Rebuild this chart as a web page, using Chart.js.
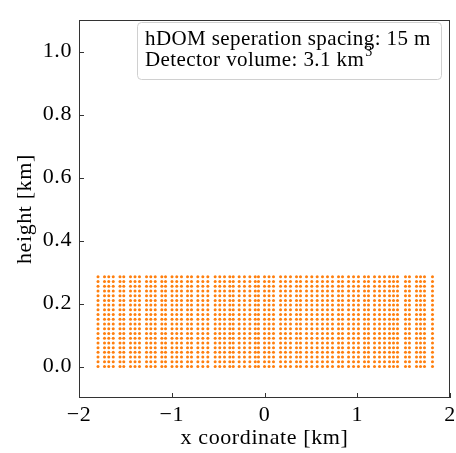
<!DOCTYPE html>
<html>
<head>
<meta charset="utf-8">
<script src="https://cdn.jsdelivr.net/npm/chart.js@4.4.0/dist/chart.umd.min.js"></script>
<style>
  html, body { margin: 0; padding: 0; background: #fff; }
  #wrap { width: 456px; height: 453px; }
</style>
</head>
<body>
<div id="wrap"><canvas id="grid" width="456" height="453"></canvas></div>
<script>
// ── Data ─────────────────────────────────────────────────────────────
// x positions of the string columns (km)
const xColumns = [
  -1.795, -1.725, -1.679, -1.631, -1.558, -1.517, -1.445, -1.396, -1.348,
  -1.272, -1.226, -1.178, -1.107, -1.067, -0.997, -0.946, -0.895, -0.830,
  -0.787, -0.719, -0.665, -0.611, -0.532, -0.482, -0.431, -0.374, -0.337,
  -0.273, -0.216, -0.158, -0.100, -0.065, 0.000, 0.049, 0.097, 0.173,
  0.226, 0.280, 0.345, 0.388, 0.453, 0.510, 0.568, 0.625, 0.679, 0.733,
  0.798, 0.841, 0.906, 0.960, 1.013, 1.078, 1.121, 1.186, 1.240, 1.294,
  1.348, 1.391, 1.434, 1.520, 1.563, 1.639, 1.682, 1.725, 1.811
];
// hDOM heights along each string (km), 15 m apart
const heightRows = [
  0.000, 0.015, 0.030, 0.045, 0.060, 0.075, 0.090, 0.105, 0.120, 0.135,
  0.150, 0.165, 0.180, 0.195, 0.210, 0.225, 0.240, 0.255, 0.270, 0.285
];
const xTicks = [-2, -1, 0, 1, 2];
const yTicks = [0.0, 0.2, 0.4, 0.6, 0.8, 1.0];
const infoLines = ['hDOM seperation spacing: 15 m', 'Detector volume: 3.1 km'];

const FONT = "'Liberation Serif', 'Times New Roman', serif";

const points = [];
xColumns.forEach(x => heightRows.forEach(y => points.push({ x, y })));

// slightly wider lettering, closer to the LaTeX look
const spacingPlugin = {
  id: 'spacing',
  beforeDraw(chart) { chart.ctx.letterSpacing = '0.6px'; }
};

// frame + inward ticks, matplotlib style
const framePlugin = {
  id: 'frame',
  afterDraw(chart) {
    const { ctx, chartArea: a, scales } = chart;
    ctx.save();
    ctx.strokeStyle = '#333';
    ctx.lineWidth = 1;
    ctx.strokeRect(Math.round(a.left) + 0.5, Math.round(a.top) + 0.5,
      Math.round(a.right - a.left) - 1, Math.round(a.bottom - a.top) - 1);
    ctx.beginPath();
    xTicks.forEach(v => {
      const px = Math.round(scales.x.getPixelForValue(v)) + 0.5;
      ctx.moveTo(px, a.bottom);
      ctx.lineTo(px, a.bottom - 5);
    });
    yTicks.forEach(v => {
      const py = Math.round(scales.y.getPixelForValue(v)) + 0.5;
      ctx.moveTo(a.left, py);
      ctx.lineTo(a.left + 5, py);
    });
    ctx.stroke();
    ctx.restore();
  }
};

// text box in the upper right
const infoPlugin = {
  id: 'info',
  afterDraw(chart) {
    const { ctx, chartArea: a } = chart;
    const bx = 137, by = 22, bw = a.right - 9 - bx, bh = 57;
    ctx.save();
    ctx.fillStyle = 'rgba(255,255,255,0.85)';
    ctx.strokeStyle = '#d0d0d0';
    ctx.lineWidth = 1;
    ctx.beginPath();
    ctx.roundRect(bx + 0.5, by + 0.5, bw, bh, 4);
    ctx.fill();
    ctx.stroke();
    ctx.fillStyle = '#000';
    ctx.letterSpacing = '0.4px';
    ctx.font = '21px ' + FONT;
    ctx.textBaseline = 'alphabetic';
    ctx.fillText(infoLines[0], 145, 45);
    ctx.fillText(infoLines[1], 145, 66);
    const w = ctx.measureText(infoLines[1]).width;
    ctx.font = '14px ' + FONT;
    ctx.fillText('3', 146 + w, 56);
    ctx.restore();
  }
};

new Chart(document.getElementById('grid'), {
  type: 'scatter',
  data: {
    datasets: [{
      data: points,
      backgroundColor: '#ff7f0e',
      borderWidth: 0,
      pointRadius: 1.5,
      pointHoverRadius: 1.5,
    }]
  },
  options: {
    responsive: false,
    animation: false,
    events: [],
    layout: { padding: { left: 0, right: 0, top: 9, bottom: 0 } },
    plugins: { legend: { display: false }, tooltip: { enabled: false } },
    scales: {
      x: {
        type: 'linear',
        min: -2, max: 2,
        grid: { display: false, drawTicks: false, tickLength: 0 },
        border: { display: false },
        afterBuildTicks: s => { s.ticks = xTicks.map(v => ({ value: v })); },
        afterFit: s => { s.height = 55; s.paddingRight = 6; },
        ticks: {
          color: '#000',
          font: { family: FONT, size: 22 },
          padding: 4,
          maxRotation: 0,
          callback: v => (v < 0 ? '\u2212' + Math.abs(v) : String(v)),
        },
        title: {
          display: true,
          text: 'x coordinate [km]',
          color: '#000',
          font: { family: FONT, size: 22 },
          padding: { top: 0, bottom: 2 },
        },
      },
      y: {
        type: 'linear',
        min: -0.1, max: 1.1,
        grid: { display: false, drawTicks: false, tickLength: 0 },
        border: { display: false },
        afterBuildTicks: s => { s.ticks = yTicks.map(v => ({ value: v })); },
        afterFit: s => { s.width = 79; },
        ticks: {
          color: '#000',
          font: { family: FONT, size: 22 },
          padding: 7,
          callback: v => v.toFixed(1),
        },
        title: {
          display: true,
          text: 'height [km]',
          color: '#000',
          font: { family: FONT, size: 22 },
          padding: { top: 12, bottom: 0 },
        },
      },
    },
  },
  plugins: [spacingPlugin, framePlugin, infoPlugin],
});
</script>
</body>
</html>
